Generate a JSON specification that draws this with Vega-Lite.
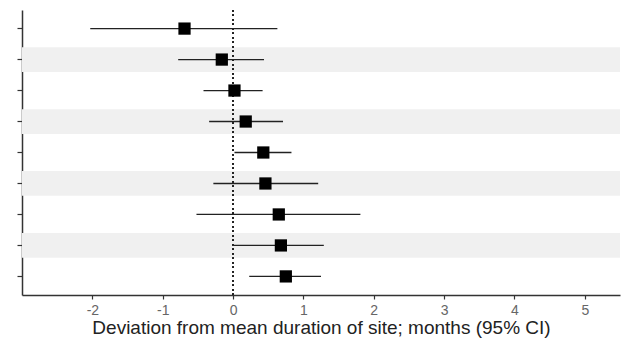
{
  "$schema": "https://vega.github.io/schema/vega-lite/v6.json",
  "width": 598,
  "height": 285,
  "autosize": "none",
  "padding": {"left": 22, "top": 10, "right": 9, "bottom": 51},
  "background": "white",
  "config": {
    "view": {"stroke": null},
    "font": "Liberation Sans",
    "axis": {"grid": false, "domainColor": "#333", "tickColor": "#333", "domainWidth": 1.5, "tickWidth": 1.2}
  },
  "data": {
    "values": [
      {"site": "Site 1", "est": -0.69, "lo": -2.03, "hi": 0.63},
      {"site": "Site 2", "est": -0.16, "lo": -0.78, "hi": 0.44},
      {"site": "Site 3", "est": 0.02, "lo": -0.42, "hi": 0.42},
      {"site": "Site 4", "est": 0.18, "lo": -0.34, "hi": 0.71},
      {"site": "Site 5", "est": 0.43, "lo": 0.02, "hi": 0.83},
      {"site": "Site 6", "est": 0.46, "lo": -0.28, "hi": 1.21},
      {"site": "Site 7", "est": 0.65, "lo": -0.52, "hi": 1.81},
      {"site": "Site 8", "est": 0.68, "lo": 0.01, "hi": 1.29},
      {"site": "Site 9", "est": 0.75, "lo": 0.23, "hi": 1.25}
    ]
  },
  "encoding": {
    "y": {
      "field": "site", "type": "nominal", "sort": null,
      "scale": {"type": "band", "paddingInner": 0, "paddingOuter": 0.1,
        "domain": ["Site 1", "Site 2", "Site 3", "Site 4", "Site 5", "Site 6", "Site 7", "Site 8", "Site 9"]},
      "axis": {"title": null, "labels": false, "tickSize": 5}
    }
  },
  "layer": [
    {
      "transform": [{"filter": {"field": "site", "oneOf": ["Site 2", "Site 4", "Site 6", "Site 8"]}}],
      "mark": {"type": "bar", "color": "#f0f0f0", "height": {"band": 0.8}},
      "encoding": {
        "x": {"value": 0},
        "x2": {"value": "width"}
      }
    },
    {
      "mark": {"type": "rule", "color": "#222", "strokeDash": [1.5, 3], "strokeWidth": 1.3},
      "encoding": {"x": {"datum": 0, "type": "quantitative"}, "y": null}
    },
    {
      "mark": {"type": "rule", "color": "#222", "strokeWidth": 1.3},
      "encoding": {
        "x": {
          "field": "lo", "type": "quantitative",
          "scale": {"domain": [-3, 5.5], "nice": false, "zero": false},
          "axis": {
            "values": [-2, -1, 0, 1, 2, 3, 4, 5],
            "labelExpr": "'' + datum.value",
            "title": "Deviation from mean duration of site; months (95% CI)",
            "titleFontSize": 19, "titleFontWeight": "normal", "titleColor": "#222", "titlePadding": 1,
            "labelFontSize": 14, "labelColor": "#666", "labelPadding": 4, "tickSize": 4
          }
        },
        "x2": {"field": "hi"}
      }
    },
    {
      "mark": {"type": "point", "shape": "square", "filled": true, "color": "black", "opacity": 1, "size": 150},
      "encoding": {"x": {"field": "est", "type": "quantitative"}}
    }
  ]
}
